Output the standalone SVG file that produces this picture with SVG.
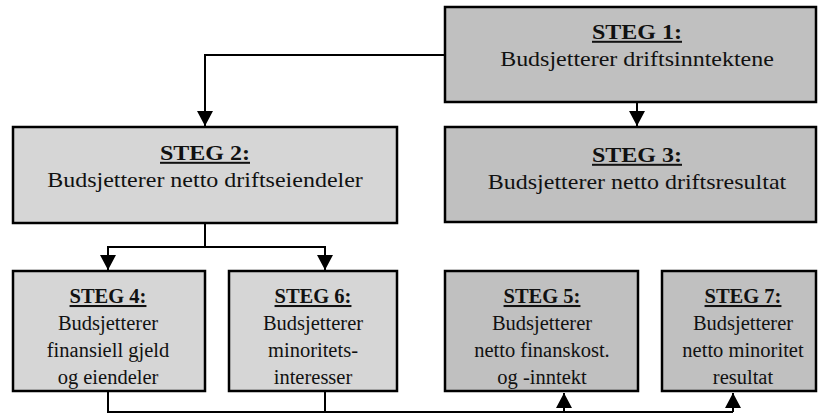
<svg xmlns="http://www.w3.org/2000/svg" width="818" height="415" viewBox="0 0 818 415">
  <style>
    .box { stroke: #000; stroke-width: 2.5; }
    .dark { fill: #c0c0c0; }
    .light { fill: #d6d6d6; }
    .conn { fill: none; stroke: #000; stroke-width: 2; }
    text { font-size: 20px; fill: #111; text-anchor: middle; }
    .head { font-weight: bold; text-decoration: underline; }
    .small { font-size: 20.5px; }
  </style>
  <defs>
    <marker id="arrow" viewBox="0 0 15 16" refX="15" refY="8" markerWidth="15" markerHeight="16" markerUnits="userSpaceOnUse" orient="auto">
      <path d="M0,0 L15,8 L0,16 z" fill="#000"/>
    </marker>
  </defs>

  <g id="connectors">
    <path class="conn" d="M445,55 H205 V126" marker-end="url(#arrow)"/>
    <path class="conn" d="M637,102 V126" marker-end="url(#arrow)"/>
    <path class="conn" d="M205,223 V247 H108 V270" marker-end="url(#arrow)"/>
    <path class="conn" d="M205,247 H325 V270" marker-end="url(#arrow)"/>
    <path class="conn" d="M108,391 V412 H733"/>
    <path class="conn" d="M325,391 V412"/>
    <path class="conn" d="M564,412 V393" marker-end="url(#arrow)"/>
    <path class="conn" d="M733,412 V393" marker-end="url(#arrow)"/>
  </g>

  <g font-family="'Liberation Serif', 'Times New Roman', 'DejaVu Serif', serif">
    <g id="steg1">
      <rect class="box dark" x="445" y="7" width="371" height="95"/>
      <text class="head" transform="translate(637,0) scale(1.2,1)" y="39">STEG 1:</text>
      <text transform="translate(637,0) scale(1.2,1)" y="66">Budsjetterer driftsinntektene</text>
    </g>

    <g id="steg2">
      <rect class="box light" x="13" y="127" width="384" height="96"/>
      <text class="head" transform="translate(205,0) scale(1.2,1)" y="160">STEG 2:</text>
      <text transform="translate(205,0) scale(1.2,1)" y="187">Budsjetterer netto driftseiendeler</text>
    </g>

    <g id="steg3">
      <rect class="box dark" x="445" y="127" width="371" height="95"/>
      <text class="head" transform="translate(637,0) scale(1.2,1)" y="162">STEG 3:</text>
      <text transform="translate(637,0) scale(1.2,1)" y="189">Budsjetterer netto driftsresultat</text>
    </g>

    <g id="steg4">
      <rect class="box light" x="13" y="271" width="192" height="120"/>
      <text class="head small" x="108" y="303">STEG 4:</text>
      <text class="small" x="108" y="330">Budsjetterer</text>
      <text class="small" x="108" y="357">finansiell gjeld</text>
      <text class="small" x="108" y="384">og eiendeler</text>
    </g>

    <g id="steg6">
      <rect class="box light" x="229" y="271" width="168" height="120"/>
      <text class="head small" x="313" y="303">STEG 6:</text>
      <text class="small" x="313" y="330">Budsjetterer</text>
      <text class="small" x="313" y="357">minoritets-</text>
      <text class="small" x="313" y="384">interesser</text>
    </g>

    <g id="steg5">
      <rect class="box dark" x="445" y="271" width="193" height="120"/>
      <text class="head small" x="542" y="303">STEG 5:</text>
      <text class="small" x="542" y="330">Budsjetterer</text>
      <text class="small" x="542" y="357">netto finanskost.</text>
      <text class="small" x="542" y="384">og -inntekt</text>
    </g>

    <g id="steg7">
      <rect class="box dark" x="662" y="271" width="154" height="120"/>
      <text class="head small" x="743" y="303">STEG 7:</text>
      <text class="small" x="743" y="330">Budsjetterer</text>
      <text class="small" x="743" y="357">netto minoritet</text>
      <text class="small" x="743" y="384">resultat</text>
    </g>
  </g>
</svg>
